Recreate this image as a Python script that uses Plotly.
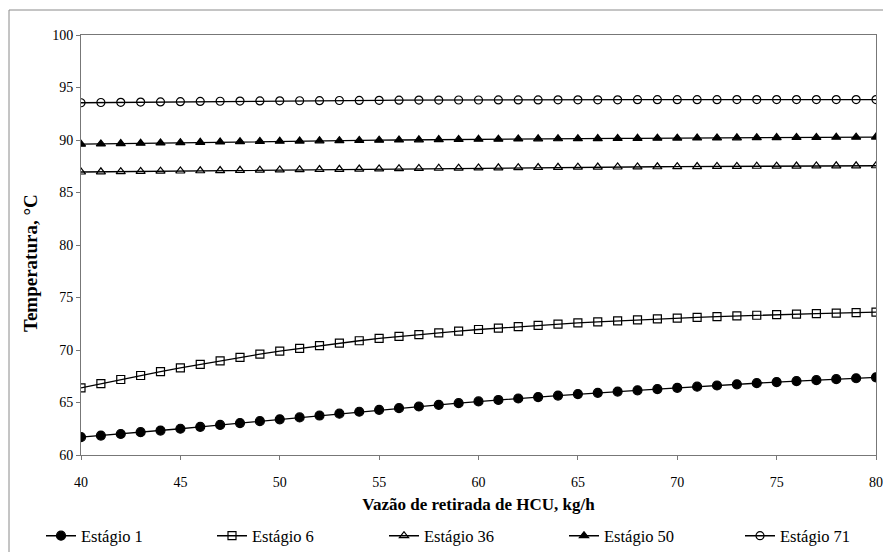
import plotly.graph_objects as go

x_vals = list(range(40, 81))

estagio_1 = [61.70, 61.85, 62.00, 62.17, 62.33, 62.50, 62.68, 62.86, 63.04, 63.22,
             63.40, 63.58, 63.76, 63.94, 64.12, 64.30, 64.46, 64.62, 64.78, 64.94,
             65.10, 65.24, 65.38, 65.52, 65.66, 65.80, 65.92, 66.04, 66.16, 66.28,
             66.40, 66.51, 66.62, 66.73, 66.84, 66.95, 67.04, 67.13, 67.22, 67.31,
             67.40]
estagio_6 = [66.40, 66.80, 67.19, 67.57, 67.94, 68.30, 68.64, 68.97, 69.29, 69.60,
             69.90, 70.16, 70.41, 70.65, 70.88, 71.10, 71.29, 71.47, 71.64, 71.80,
             71.95, 72.09, 72.22, 72.35, 72.47, 72.58, 72.68, 72.78, 72.87, 72.96,
             73.04, 73.11, 73.18, 73.25, 73.31, 73.37, 73.42, 73.47, 73.52, 73.56,
             73.60]
estagio_36 = [86.95, 86.97, 86.99, 87.01, 87.03, 87.05, 87.07, 87.09, 87.11, 87.13,
              87.15, 87.17, 87.19, 87.21, 87.23, 87.25, 87.27, 87.29, 87.31, 87.32,
              87.34, 87.35, 87.37, 87.38, 87.40, 87.41, 87.42, 87.43, 87.44, 87.45,
              87.46, 87.47, 87.48, 87.49, 87.50, 87.51, 87.52, 87.53, 87.54, 87.54,
              87.55]
estagio_50 = [89.60, 89.63, 89.66, 89.69, 89.72, 89.75, 89.78, 89.81, 89.84, 89.86,
              89.88, 89.90, 89.92, 89.94, 89.96, 89.98, 90.00, 90.02, 90.04, 90.05,
              90.07, 90.08, 90.10, 90.11, 90.12, 90.13, 90.14, 90.15, 90.16, 90.17,
              90.18, 90.19, 90.20, 90.21, 90.22, 90.23, 90.24, 90.25, 90.26, 90.27,
              90.28]
estagio_71 = [93.55, 93.57, 93.59, 93.61, 93.63, 93.65, 93.67, 93.69, 93.71, 93.72,
              93.73, 93.74, 93.75, 93.76, 93.77, 93.78, 93.79, 93.80, 93.80, 93.81,
              93.81, 93.82, 93.82, 93.82, 93.83, 93.83, 93.83, 93.83, 93.84, 93.84,
              93.84, 93.84, 93.84, 93.85, 93.85, 93.85, 93.85, 93.85, 93.85, 93.85,
              93.85]

series_names = ["Estágio 1", "Estágio 6", "Estágio 36", "Estágio 50", "Estágio 71"]
series_values = [estagio_1, estagio_6, estagio_36, estagio_50, estagio_71]
symbols = ["circle", "square-open", "triangle-up-open", "triangle-up", "circle-open"]
sizes = [9, 8, 8, 8, 8]
legend_ids = ["legend", "legend2", "legend3", "legend4", "legend5"]
legend_x_px = [41, 212, 384, 564, 740]

x_ticks = [40, 45, 50, 55, 60, 65, 70, 75, 80]
y_ticks = [60, 65, 70, 75, 80, 85, 90, 95, 100]

FONT = "Liberation Serif, Times New Roman, serif"
W, H = 883, 552
PL, PR, PT, PB = 81, 876, 35, 455  # plot-area edges in pixels
PW, PH = PR - PL, PB - PT

fig = go.Figure()
for name, vals, sym, sz, lid in zip(series_names, series_values, symbols, sizes, legend_ids):
    fig.add_trace(go.Scatter(
        x=x_vals, y=vals, name=name, mode="lines+markers", legend=lid,
        line=dict(color="black", width=1.3),
        marker=dict(symbol=sym, size=sz, color="black",
                    line=dict(color="black", width=1.2)),
    ))

legend_common = dict(orientation="h", xref="container", yref="container",
                     xanchor="left", yanchor="middle", y=(H - 536) / H,
                     font=dict(family=FONT, size=16.5, color="black"),
                     bgcolor="rgba(0,0,0,0)", itemwidth=30)
layout_legends = {}
for lid, px in zip(legend_ids, legend_x_px):
    layout_legends[lid] = dict(legend_common, x=px / W)

fig.update_layout(
    width=W, height=H,
    margin=dict(l=PL, r=W - PR, t=PT, b=H - PB, autoexpand=False),
    paper_bgcolor="white", plot_bgcolor="white",
    font=dict(family=FONT, size=14, color="black"),
    showlegend=True,
    shapes=[dict(type="rect", xref="paper", yref="paper",
                 x0=(9 - PL) / PW, x1=1.2, y0=-0.4, y1=(PB - 10) / PH,
                 line=dict(color="#8a8a8a", width=1), layer="below")],
    annotations=[dict(text="<b>Temperatura, °C</b>", textangle=-90,
                      xref="paper", yref="paper",
                      x=(30 - PL) / PW, y=(PB - 263) / PH,
                      xanchor="center", yanchor="middle", showarrow=False,
                      font=dict(family=FONT, size=19, color="black"))],
    **layout_legends,
)

fig.update_xaxes(
    range=[40, 80], tickvals=x_ticks, ticktext=[str(t) for t in x_ticks],
    showgrid=False, zeroline=False, automargin=False,
    showline=True, mirror=True, linecolor="#777777", linewidth=1,
    ticks="outside", ticklen=4, tickcolor="#777777",
    ticklabelstandoff=10,
    tickfont=dict(family=FONT, size=14),
    title=dict(text="<b>Vazão de retirada de HCU, kg/h</b>",
               font=dict(family=FONT, size=17), standoff=9),
)
fig.update_yaxes(
    range=[60, 100], tickvals=y_ticks, ticktext=[str(t) for t in y_ticks],
    showgrid=False, zeroline=False, automargin=False,
    showline=True, mirror=True, linecolor="#777777", linewidth=1,
    ticks="outside", ticklen=4, tickcolor="#777777",
    tickfont=dict(family=FONT, size=14),
)

fig.write_html("out.html",
               config={"displayModeBar": False},
               post_script="document.body.style.margin='0';document.body.style.overflow='hidden';")
